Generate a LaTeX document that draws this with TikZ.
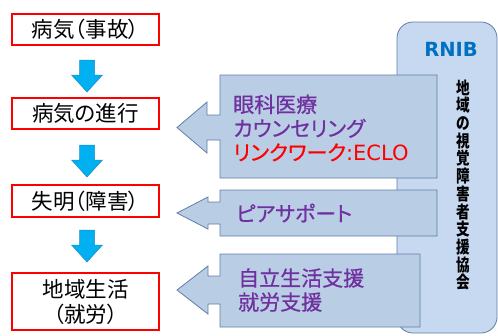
\documentclass[tikz,border=0pt]{standalone}
\usepackage{fontspec}
\newfontfamily\jp[RawFeature=+palt]{Noto Sans CJK JP}
\newfontfamily\jpm[RawFeature=+palt, FakeBold=0.6]{Noto Sans CJK JP}
\newfontfamily\jpv[FakeStretch=0.8]{Noto Sans CJK JP}
\newfontfamily\dejav{DejaVu Sans}
\definecolor{redline}{RGB}{255,0,0}
\definecolor{arrowblue}{RGB}{0,176,240}
\definecolor{arrowedge}{RGB}{30,140,200}
\definecolor{blockfill}{RGB}{185,205,229}
\definecolor{blockedge}{RGB}{96,125,165}
\definecolor{rnibfill}{RGB}{198,217,241}
\definecolor{purp}{RGB}{112,48,160}
\definecolor{rnibtext}{RGB}{0,112,192}
\tikzset{
  redbox/.style={draw=redline, line width=1.4pt, fill=white, minimum width=147pt, inner sep=0pt,
    align=center, font=\jp\fontsize{21.5}{25}\selectfont},
  blockarrow/.style={fill=blockfill, draw=blockedge, line width=0.8pt},
  blocktext/.style={anchor=west, align=left, inner sep=0pt, font=\jpm\fontsize{21}{24}\selectfont, text=purp},
  downarr/.pic={\path[fill=arrowblue, draw=arrowedge, line width=0.5pt]
     (-7.5,0) -- (7.5,0) -- (7.5,15) -- (15.5,15) -- (0,32) -- (-15.5,15) -- (-7.5,15) -- cycle;}
}
\begin{document}
\begin{tikzpicture}[x=1pt,y=-1pt]
\useasboundingbox (0,0) rectangle (498,335);
% RNIB panel
\draw[fill=rnibfill, draw=blockedge, line width=0.8pt, rounded corners=16pt] (397,22) rectangle (497,333);
\node (rnib) at (451,49) {\dejav\bfseries\fontsize{19.5}{20}\selectfont\color{rnibtext}RNIB};
\node[align=center, inner sep=0pt, font=\jpv\bfseries\fontsize{17}{17.7}\selectfont] (assoc) at (463,185)
  {地\\域\\の\\視\\覚\\障\\害\\者\\支\\援\\協\\会};
% left boxes
\node[redbox, minimum height=31pt] (b1) at (85.5,29.5) {病気（事故）};
\node[redbox, minimum height=31pt] (b2) at (85.5,113.5) {病気の進行};
\node[redbox, minimum height=32pt] (b3) at (85.5,201) {失明（障害）};
\node[redbox, minimum height=57pt] (b4) at (85.5,301.5) {地域生活\\（就労）};
% down arrows
\pic at (87,60) {downarr};
\pic at (87,145) {downarr};
\pic at (87,230) {downarr};
% block arrows
\draw[blockarrow] (437,75) -- (220,75) -- (220,115) -- (207,115) -- (207,102) -- (177,127.5)
  -- (207,153) -- (207,140) -- (220,140) -- (220,178) -- (437,178) -- cycle;
\draw[blockarrow] (437,190) -- (220,190) -- (220,202) -- (208,202) -- (208,197) -- (177,213)
  -- (208,229) -- (208,224) -- (220,224) -- (220,236) -- (437,236) -- cycle;
\draw[blockarrow] (420,254) -- (220,254) -- (220,276) -- (208,276) -- (208,266) -- (177,290)
  -- (208,314) -- (208,304) -- (220,304) -- (220,327) -- (420,327) -- cycle;
\node[blocktext] (t1) at (233,128) {眼科医療\\カウンセリング\\\textcolor{redline}{リンクワーク{\dejav\fontsize{21}{24}\selectfont :ECLO}}};
\node[blocktext] (t2) at (236,213) {ピアサポート};
\node[blocktext] (t3) at (238,290) {自立生活支援\\就労支援};
\end{tikzpicture}
\end{document}
